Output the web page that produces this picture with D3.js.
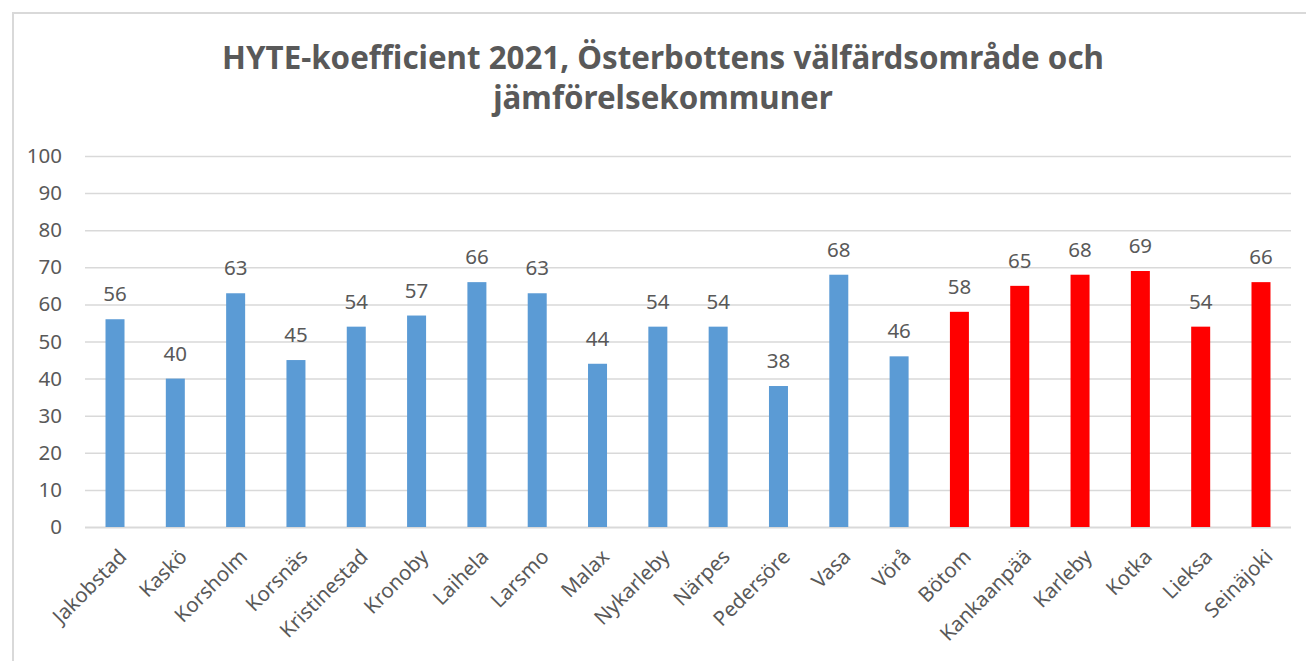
<!DOCTYPE html>
<html>
<head>
<meta charset="utf-8">
<script src="https://cdn.jsdelivr.net/npm/d3@7"></script>
<style>
  body { margin: 0; background: #fff; }
  text { font-family: "Noto Sans", sans-serif; fill: #595959; }
</style>
</head>
<body>
<div id="chart"></div>
<script>
var categories = ["Jakobstad", "Kaskö", "Korsholm", "Korsnäs", "Kristinestad", "Kronoby", "Laihela",
    "Larsmo", "Malax", "Nykarleby", "Närpes", "Pedersöre", "Vasa", "Vörå",
    "Bötom", "Kankaanpää", "Karleby", "Kotka", "Lieksa", "Seinäjoki"]
var values = [56, 40, 63, 45, 54, 57, 66, 63, 44, 54, 54, 38, 68, 46, 58, 65, 68, 69, 54, 66]
// first 14 = Österbotten, the rest = comparison municipalities
var groups = ["ob", "ob", "ob", "ob", "ob", "ob", "ob", "ob", "ob", "ob", "ob", "ob", "ob", "ob",
    "cmp", "cmp", "cmp", "cmp", "cmp", "cmp"]
var yTicks = [0, 10, 20, 30, 40, 50, 60, 70, 80, 90, 100]
var titleLines = ["HYTE-koefficient 2021, Österbottens välfärdsområde och", "jämförelsekommuner"]

var width = 1306,
    height = 661,
    plotLeft = 85,
    plotRight = 1291,
    plotTop = 156,
    plotBottom = 527

var colors = { ob: "#5B9BD5", cmp: "#FF0000" }

var svg = d3.select("#chart")
    .append("svg")
    .attr("width", width)
    .attr("height", height)

// chart border
svg.append("rect")
    .attr("x", 13)
    .attr("y", 13)
    .attr("width", width)
    .attr("height", height)
    .attr("fill", "none")
    .attr("stroke", "#d9d9d9")
    .attr("stroke-width", 2)

var x = d3.scaleBand()
    .domain(categories)
    .range([plotLeft, plotRight])
    .paddingInner(0.685)
    .paddingOuter(0.34)

var y = d3.scaleLinear()
    .domain([0, 100])
    .range([plotBottom, plotTop])

// gridlines + y labels
var yAxis = svg.append("g")
    .attr("transform", "translate(" + plotLeft + ",0)")
    .call(d3.axisLeft(y).tickValues(yTicks).tickSize(-(plotRight - plotLeft)).tickPadding(23))
yAxis.select(".domain").remove()
yAxis.selectAll(".tick line")
    .attr("stroke", "#d9d9d9")
    .attr("stroke-width", function (d) { return d === 0 ? 2 : 1.5 })
yAxis.selectAll(".tick text")
    .style("font-size", "20.5px")
    .attr("fill", "#595959")

// bars
svg.selectAll(".bar")
    .data(values)
    .enter()
    .append("rect")
    .attr("class", "bar")
    .attr("x", function (d, i) { return x(categories[i]) })
    .attr("y", function (d) { return y(d) })
    .attr("width", x.bandwidth())
    .attr("height", function (d) { return y(0) - y(d) })
    .attr("fill", function (d, i) { return colors[groups[i]] })

// value labels
svg.selectAll(".val")
    .data(values)
    .enter()
    .append("text")
    .attr("class", "val")
    .attr("x", function (d, i) { return x(categories[i]) + x.bandwidth() / 2 })
    .attr("y", function (d) { return y(d) - 18 })
    .attr("text-anchor", "middle")
    .style("font-size", "20.5px")
    .text(function (d) { return d })

// x labels
var xAxis = svg.append("g")
    .attr("transform", "translate(0," + plotBottom + ")")
    .call(d3.axisBottom(x).tickSize(0).tickPadding(0))
xAxis.select(".domain").remove()
xAxis.selectAll(".tick text")
    .attr("text-anchor", "end")
    .attr("dy", 0)
    .attr("y", 0)
    .attr("transform", "translate(13,31) rotate(-45)")
    .style("font-size", "20.5px")
    .attr("fill", "#595959")

// title
svg.selectAll(".title")
    .data(titleLines)
    .enter()
    .append("text")
    .attr("class", "title")
    .attr("x", 663)
    .attr("y", function (d, i) { return 69 + i * 40 })
    .attr("text-anchor", "middle")
    .style("font-size", "31.3px")
    .style("font-weight", "bold")
    .text(function (d) { return d })
</script>
</body>
</html>
